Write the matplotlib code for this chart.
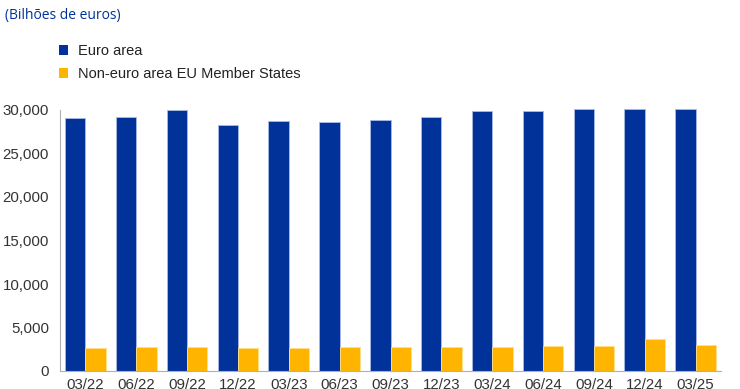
import numpy as np
import matplotlib
matplotlib.use("Agg")
import matplotlib.pyplot as plt
from matplotlib.patches import Patch
from matplotlib.ticker import FuncFormatter

# Data (billions of euros)
periods = ["03/22", "06/22", "09/22", "12/22", "03/23", "06/23", "09/23",
           "12/23", "03/24", "06/24", "09/24", "12/24", "03/25"]
euro_area = [29100, 29230, 30000, 28310, 28700, 28590, 28850,
             29230, 29850, 29890, 30080, 30080, 30080]
non_euro = [2650, 2720, 2720, 2610, 2680, 2720, 2720,
            2760, 2800, 2830, 2870, 3640, 2990]

blue = "#003299"
yellow = "#ffb400"

plt.rcParams["font.family"] = ["Liberation Sans", "DejaVu Sans"]

fig = plt.figure(figsize=(7.4, 3.89), dpi=100)
ax = fig.add_axes([60 / 740, 18 / 389, 661 / 740, 261 / 389])

x = np.arange(len(periods))
w = 0.4
ax.bar(x - w / 2, euro_area, w, color=blue, edgecolor="#a9bbe6", linewidth=0.6)
ax.bar(x + w / 2, non_euro, w, color=yellow, edgecolor="#ffe08a", linewidth=0.6)

ax.set_xlim(-0.5, len(periods) - 0.5)
ax.set_ylim(0, 30000)
ax.set_yticks(np.arange(0, 30001, 5000))
ax.yaxis.set_major_formatter(FuncFormatter(lambda v, p: f"{int(v):,}"))
ax.set_xticks(x)
ax.set_xticklabels(periods)
ax.tick_params(axis="both", length=0, labelsize=10.8, colors="#333333")
ax.tick_params(axis="y", pad=8)
ax.tick_params(axis="x", pad=5)

for side in ["top", "right"]:
    ax.spines[side].set_visible(False)
ax.spines["left"].set_color("#b0b0b0")
ax.spines["bottom"].set_color("#b0b0b0")
for b in ax.patches:
    b.set_clip_on(False)

fig.text(5 / 740, 1 - 16 / 389, "(Bilhões de euros)", color=blue,
         fontsize=10, family=["Open Sans", "DejaVu Sans"], va="center", ha="left")

handles = [Patch(facecolor=blue, edgecolor="none"), Patch(facecolor=yellow, edgecolor="none")]
fig.legend(handles, ["Euro area", "Non-euro area EU Member States"],
           loc="upper left", bbox_to_anchor=(46 / 740, 1 - 31 / 389),
           frameon=False, fontsize=10.5, handlelength=0.6, handleheight=0.6,
           handletextpad=0.7, labelspacing=0.62, labelcolor="#222222")

fig.savefig("out.png", dpi=100)
